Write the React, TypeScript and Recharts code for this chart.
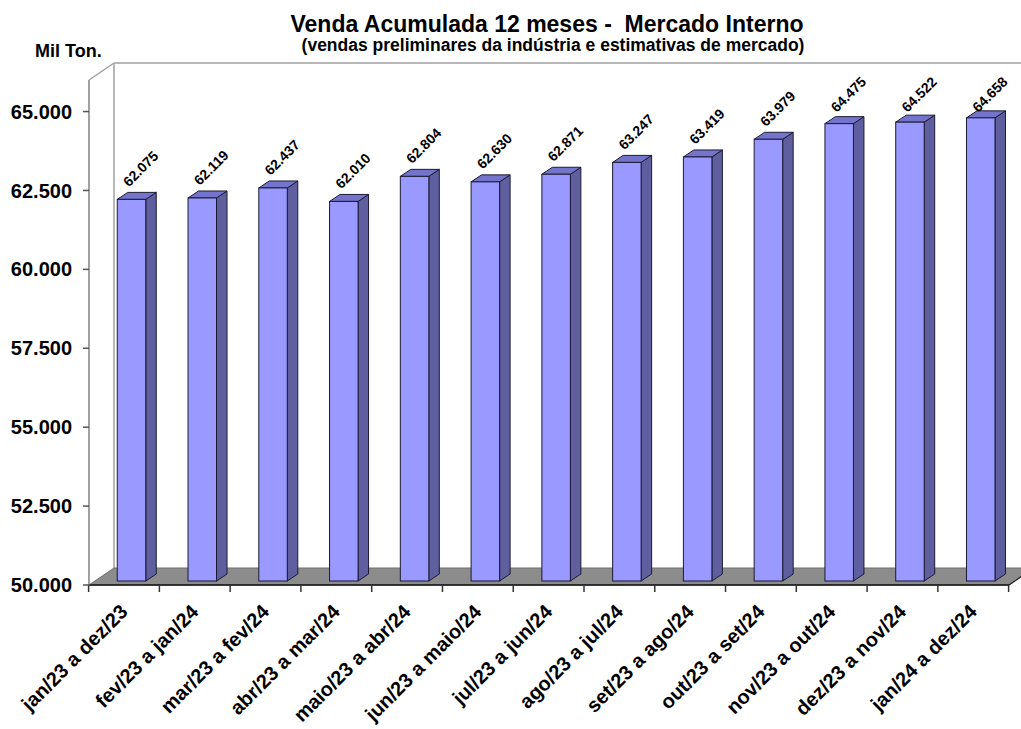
import React from 'react';
import { BarChart, Bar, XAxis, YAxis } from 'recharts';

// ---- data ----
const categories = [
  'jan/23 a dez/23',
  'fev/23 a jan/24',
  'mar/23 a fev/24',
  'abr/23 a mar/24',
  'maio/23 a abr/24',
  'jun/23 a maio/24',
  'jul/23 a jun/24',
  'ago/23 a jul/24',
  'set/23 a ago/24',
  'out/23 a set/24',
  'nov/23 a out/24',
  'dez/23 a nov/24',
  'jan/24 a dez/24',
];
const vendas = [62075, 62119, 62437, 62010, 62804, 62630, 62871, 63247, 63419, 63979, 64475, 64522, 64658];
const yTicks = [50000, 52500, 55000, 57500, 60000, 62500, 65000];
const yDomain = [50000, 66000];

const data = categories.map((c, i) => ({ categoria: c, venda: vendas[i] }));

// ---- layout ----
const W = 1021;
const H = 729;
const MARGIN = { top: 80, right: 12, bottom: 0, left: 0 };
const Y_W = 89;
const X_H = 144;
const PL = MARGIN.left + Y_W;
const PR = W - MARGIN.right;
const PT = MARGIN.top;
const PB = H - MARGIN.bottom - X_H;
const BAND = (PR - PL) / categories.length;
const WALL_D = { x: 25, y: -17 };
const BAR_OFF = { x: 7.5, y: -4.5 };
const BAR_D = { x: 10.5, y: -7 };
const BAR_W = 28.5;
const LABEL_MIN_Y = 113;
const FONT = '"Liberation Sans", Arial, Helvetica, sans-serif';

const C_FRONT = '#9999FF';
const C_TOP = '#7474CC';
const C_SIDE = '#5F5F9F';
const C_EDGE = '#1b1b33';

const fmt = (v: number) => String(v).replace(/\B(?=(\d{3})+(?!\d))/g, '.');

const Walls = () => (
  <g>
    <line x1={PL} y1={PT} x2={PL + WALL_D.x} y2={PT + WALL_D.y} stroke="#a0a0a0" strokeWidth={1.5} />
    <line x1={PL + WALL_D.x} y1={PT + WALL_D.y} x2={W + 20} y2={PT + WALL_D.y} stroke="#a0a0a0" strokeWidth={1.5} />
    <line x1={PL + WALL_D.x} y1={PT + WALL_D.y} x2={PL + WALL_D.x} y2={PB + WALL_D.y} stroke="#a0a0a0" strokeWidth={1.5} />
    <polygon
      points={`${PL},${PB} ${PR},${PB} ${PR + WALL_D.x},${PB + WALL_D.y} ${PL + WALL_D.x},${PB + WALL_D.y}`}
      fill="#8c8c8c"
      stroke="#6e6e6e"
      strokeWidth={1}
    />
    <line x1={PL} y1={PB} x2={PR} y2={PB} stroke="#111" strokeWidth={1.5} />
    <line x1={PR} y1={PB} x2={PR + WALL_D.x} y2={PB + WALL_D.y} stroke="#222" strokeWidth={1.2} />
  </g>
);

const Bar3D = (props: any) => {
  const { x, y, width, height, index, payload } = props;
  const cx = x + width / 2;
  const left = cx + BAR_OFF.x - BAR_W / 2;
  const right = left + BAR_W;
  const top = y + BAR_OFF.y;
  const bottom = y + height - 4;
  const dx = BAR_D.x;
  const dy = BAR_D.y;
  const faceC = (left + right) / 2;
  const sy = Math.max(top - 12, LABEL_MIN_Y);
  const sx = faceC - 2.5;
  const n = categories.length;
  return (
    <g>
      <line x1={cx - BAND / 2} y1={PB} x2={cx - BAND / 2} y2={PB + 7} stroke="#333" strokeWidth={1.5} />
      {index === n - 1 && (
        <line x1={cx + BAND / 2} y1={PB} x2={cx + BAND / 2} y2={PB + 7} stroke="#333" strokeWidth={1.5} />
      )}
      <polygon
        points={`${right},${top} ${right + dx},${top + dy} ${right + dx},${bottom + dy} ${right},${bottom}`}
        fill={C_SIDE}
        stroke={C_EDGE}
        strokeWidth={1}
        strokeLinejoin="round"
      />
      <polygon
        points={`${left},${top} ${left + dx},${top + dy} ${right + dx},${top + dy} ${right},${top}`}
        fill={C_TOP}
        stroke={C_EDGE}
        strokeWidth={1}
        strokeLinejoin="round"
      />
      <rect x={left} y={top} width={BAR_W} height={bottom - top} fill={C_FRONT} stroke={C_EDGE} strokeWidth={1} />
      <text
        x={sx}
        y={sy}
        textAnchor="start"
        transform={`rotate(-45 ${sx} ${sy})`}
        fontSize={14}
        fontWeight="bold"
        fontFamily={FONT}
        fill="#000"
      >
        {fmt(payload.venda)}
      </text>
    </g>
  );
};

const XTick = (props: any) => {
  const { x, payload } = props;
  const ax = x + 4.5;
  const ay = PB + 28;
  return (
    <text
      x={ax}
      y={ay}
      textAnchor="end"
      transform={`rotate(-45 ${ax} ${ay})`}
      fontSize={20}
      fontWeight="bold"
      fontFamily={FONT}
      fill="#000"
    >
      {payload.value}
    </text>
  );
};

export default function App() {
  return (
    <div style={{ position: 'absolute', left: 0, top: 0, width: W, height: H, background: '#fff', overflow: 'hidden' }}>
      <svg width={W} height={H} style={{ position: 'absolute', left: 0, top: 0 }}>
        <Walls />
      </svg>
      <div style={{ position: 'absolute', left: 0, top: 0 }}>
        <BarChart width={W} height={H} data={data} margin={MARGIN}>
          <XAxis
            dataKey="categoria"
            height={X_H}
            interval={0}
            tickLine={false}
            axisLine={false}
            tickSize={0}
            tick={<XTick />}
          />
          <YAxis
            type="number"
            domain={yDomain}
            ticks={yTicks}
            interval={0}
            width={Y_W}
            tickFormatter={fmt}
            tickSize={6}
            tickMargin={11}
            axisLine={{ stroke: '#808080', strokeWidth: 1.5 }}
            tickLine={{ stroke: '#555', strokeWidth: 1.5 }}
            tick={{ fontSize: 20, fontWeight: 'bold', fill: '#000', fontFamily: FONT }}
          />
          <Bar dataKey="venda" barSize={28} shape={<Bar3D />} isAnimationActive={false} />
        </BarChart>
      </div>
      <svg width={W} height={H} style={{ position: 'absolute', left: 0, top: 0, pointerEvents: 'none' }}>
        <text
          x={547}
          y={32}
          textAnchor="middle"
          fontSize={23}
          fontWeight="bold"
          fontFamily={FONT}
          fill="#000"
          style={{ whiteSpace: 'pre' }}
        >
          Venda Acumulada 12 meses -  Mercado Interno
        </text>
        <text x={553} y={51} textAnchor="middle" fontSize={17.5} fontWeight="bold" fontFamily={FONT} fill="#000">
          (vendas preliminares da indústria e estimativas de mercado)
        </text>
        <text x={35} y={57} fontSize={18} fontWeight="bold" fontFamily={FONT} fill="#000">
          Mil Ton.
        </text>
      </svg>
    </div>
  );
}
